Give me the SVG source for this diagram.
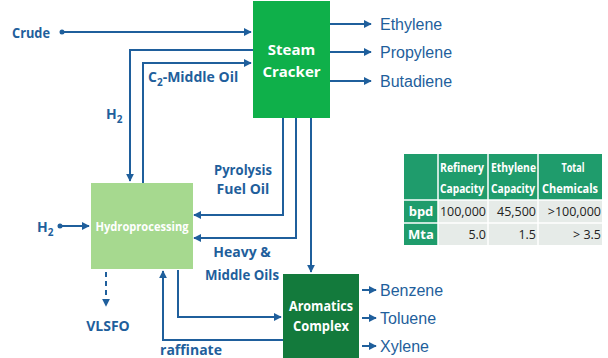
<svg xmlns="http://www.w3.org/2000/svg" width="608" height="358" viewBox="0 0 608 358">
<style>
.ln{fill:none;stroke:#1f5f9c;stroke-width:2}
.lb{font-family:"Open Sans","Liberation Sans",sans-serif;font-weight:bold;font-size:14px;fill:#1f5f9c}
.pr{font-family:"Liberation Sans",Arial,sans-serif;font-size:16px;fill:#1f5f9c}
.wt{font-family:"Open Sans","Liberation Sans",sans-serif;font-weight:bold;fill:#fff;text-anchor:middle}
.th{font-family:"Open Sans","Liberation Sans",sans-serif;font-weight:bold;font-size:13px;fill:#fff}
.td{font-family:"Open Sans","Liberation Sans",sans-serif;font-size:12.5px;fill:#222;text-anchor:end}
</style>
<defs>
<marker id="ah" viewBox="0 0 10 10" refX="9" refY="5" markerWidth="4" markerHeight="4" orient="auto" markerUnits="strokeWidth">
<path d="M0,0 L10,5 L0,10 z" fill="#1f5f9c"/>
</marker>
</defs>
<rect width="608" height="358" fill="#fff"/>
<g id="connectors">
<line class="ln" x1="62" y1="32" x2="251" y2="32" stroke-width="2.5" marker-end="url(#ah)"/>
<circle cx="62" cy="32" r="2.5" fill="#1f5f9c"/>
<polyline class="ln" points="253,50 130,50 130,181" marker-end="url(#ah)"/>
<polyline class="ln" points="143,183 143,63 251,63" marker-end="url(#ah)"/>
<line class="ln" x1="330" y1="24" x2="371" y2="24" marker-end="url(#ah)"/>
<line class="ln" x1="330" y1="52" x2="371" y2="52" marker-end="url(#ah)"/>
<line class="ln" x1="330" y1="81" x2="371" y2="81" marker-end="url(#ah)"/>
<polyline class="ln" points="283,118 283,215 194,215" marker-end="url(#ah)"/>
<polyline class="ln" points="296,118 296,238 194,238" marker-end="url(#ah)"/>
<line class="ln" x1="311" y1="118" x2="311" y2="272" marker-end="url(#ah)"/>
<line class="ln" x1="60" y1="226" x2="89" y2="226" stroke-width="2.5" marker-end="url(#ah)"/>
<circle cx="60" cy="226" r="2.5" fill="#1f5f9c"/>
<line class="ln" x1="106" y1="272" x2="106" y2="306" stroke-dasharray="5,4" marker-end="url(#ah)"/>
<polyline class="ln" points="178,270 178,317 281,317" marker-end="url(#ah)"/>
<polyline class="ln" points="283,340 163,340 163,271" marker-end="url(#ah)"/>
<line class="ln" x1="362" y1="290" x2="376" y2="290" marker-end="url(#ah)"/>
<line class="ln" x1="362" y1="318" x2="376" y2="318" marker-end="url(#ah)"/>
<line class="ln" x1="362" y1="346" x2="376" y2="346" marker-end="url(#ah)"/>
</g>
<g id="steam-cracker">
<rect x="253" y="1" width="77" height="117" fill="#0fb04a"/>
<text class="wt" x="291.5" y="55" font-size="15">Steam</text>
<text class="wt" x="291.5" y="77" font-size="15">Cracker</text>
</g>
<g id="hydroprocessing">
<rect x="91" y="183" width="102" height="86" fill="#a6d98f"/>
<text class="wt" x="142" y="231" font-size="12.5" textLength="93" lengthAdjust="spacingAndGlyphs">Hydroprocessing</text>
</g>
<g id="aromatics">
<rect x="283" y="274" width="76" height="84" fill="#137a3c"/>
<text class="wt" x="321" y="311" font-size="13.5" textLength="64" lengthAdjust="spacingAndGlyphs">Aromatics</text>
<text class="wt" x="321" y="331" font-size="13.5" textLength="56" lengthAdjust="spacingAndGlyphs">Complex</text>
</g>
<g id="labels">
<text class="lb" x="12" y="38" textLength="38" lengthAdjust="spacingAndGlyphs">Crude</text>
<text class="lb" x="106" y="119">H<tspan font-size="10" dy="4">2</tspan></text>
<text class="lb" x="148" y="82">C<tspan font-size="10" dy="4">2</tspan><tspan dy="-4">-Middle Oil</tspan></text>
<text class="lb" x="37" y="232">H<tspan font-size="10" dy="4">2</tspan></text>
<text class="lb" x="243" y="175" text-anchor="middle" textLength="58" lengthAdjust="spacingAndGlyphs">Pyrolysis</text>
<text class="lb" x="243" y="194" text-anchor="middle">Fuel Oil</text>
<text class="lb" x="242" y="257" text-anchor="middle">Heavy &amp;</text>
<text class="lb" x="242" y="280" text-anchor="middle" textLength="74" lengthAdjust="spacingAndGlyphs">Middle Oils</text>
<text class="lb" x="108" y="331" text-anchor="middle">VLSFO</text>
<text class="lb" x="191" y="355" text-anchor="middle">raffinate</text>
<text class="pr" x="380" y="30">Ethylene</text>
<text class="pr" x="380" y="58">Propylene</text>
<text class="pr" x="380" y="87">Butadiene</text>
<text class="pr" x="380" y="296">Benzene</text>
<text class="pr" x="380" y="324">Toluene</text>
<text class="pr" x="380" y="352">Xylene</text>
</g>
<g id="table">
<rect x="404" y="154" width="198" height="46" fill="#1f9c6c"/>
<rect x="404" y="200" width="34" height="45" fill="#1f9c6c"/>
<rect x="438" y="200" width="164" height="45" fill="#e6ebe8"/>
<g stroke="#fff" stroke-width="1.5">
<line x1="438" y1="154" x2="438" y2="245"/>
<line x1="488" y1="154" x2="488" y2="245"/>
<line x1="538" y1="154" x2="538" y2="245"/>
<line x1="404" y1="200" x2="602" y2="200"/>
<line x1="404" y1="223" x2="602" y2="223"/>
</g>
<text class="th" x="440" y="172" textLength="44" lengthAdjust="spacingAndGlyphs">Refinery</text>
<text class="th" x="440" y="193" textLength="44" lengthAdjust="spacingAndGlyphs">Capacity</text>
<text class="th" x="491" y="172" textLength="45" lengthAdjust="spacingAndGlyphs">Ethylene</text>
<text class="th" x="491" y="193" textLength="44" lengthAdjust="spacingAndGlyphs">Capacity</text>
<text class="th" x="573" y="172" text-anchor="middle" textLength="23" lengthAdjust="spacingAndGlyphs">Total</text>
<text class="th" x="570" y="193" text-anchor="middle" textLength="56" lengthAdjust="spacingAndGlyphs">Chemicals</text>
<text class="th" x="421" y="216" text-anchor="middle">bpd</text>
<text class="th" x="421" y="239" text-anchor="middle">Mta</text>
<text class="td" x="486" y="216">100,000</text>
<text class="td" x="536" y="216">45,500</text>
<text class="td" x="601" y="216">&gt;100,000</text>
<text class="td" x="486" y="239">5.0</text>
<text class="td" x="536" y="239">1.5</text>
<text class="td" x="601" y="239">&gt; 3.5</text>
</g>
</svg>
